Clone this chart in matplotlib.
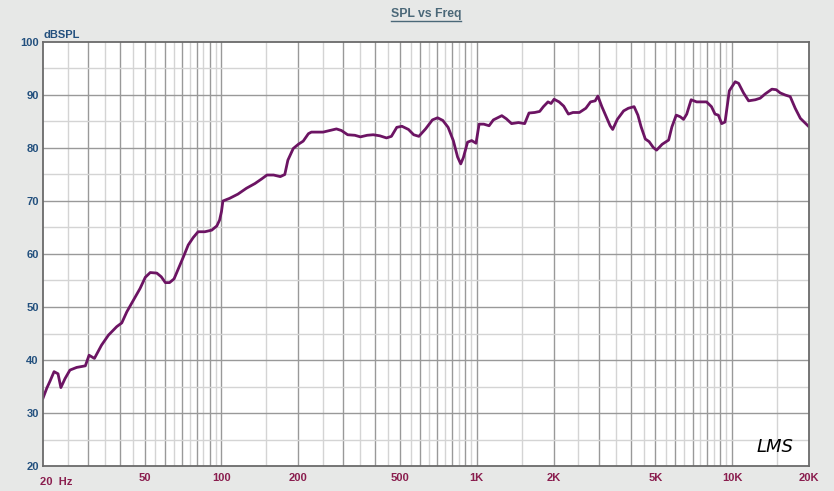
import numpy as np
import matplotlib
matplotlib.use("Agg")
import matplotlib.pyplot as plt
from matplotlib.ticker import FixedLocator, NullFormatter
from matplotlib.lines import Line2D

freq = [20, 20.7, 21.3, 22.1, 22.9, 23.5, 24.4, 25.5, 27.1, 29.3,
        30.3, 31.8, 33.9, 36.1, 38.9, 40.7, 42.6, 45.2, 48.0, 50.3,
        52.6, 55.8, 58.1, 60.3, 62.6, 65.2, 67.5, 71, 74.1, 77.5,
        81, 86.1, 91.6, 95.9, 98.3, 100, 101.3, 107.6, 116, 125.2,
        135.3, 144, 150.7, 160, 170, 177, 182, 191, 200, 209,
        219, 225, 250, 266, 282, 295, 312, 333, 350, 372,
        393, 417, 443, 463, 486, 509, 540, 566, 593, 630,
        670, 702, 736, 772, 809, 841, 865, 886, 920, 955,
        993, 1021, 1065, 1117, 1161, 1253, 1306, 1368, 1456, 1540,
        1601, 1685, 1763, 1823, 1900, 1953, 2008, 2100, 2190, 2284,
        2381, 2522, 2673, 2789, 2908, 2979, 3089, 3220, 3328, 3406,
        3551, 3758, 3921, 4131, 4275, 4400, 4570, 4730, 4910, 5060,
        5320, 5640, 5810, 6040, 6260, 6450, 6640, 6910, 7260, 7940,
        8300, 8570, 8830, 9100, 9380, 9750, 10280, 10600, 11080, 11600,
        12320, 12880, 13470, 14310, 14880, 15420, 16130, 16880, 17660, 18500,
        20000]

spl = [32.8, 34.7, 36.0, 37.8, 37.4, 34.8, 36.5, 38.1, 38.6, 38.9,
       40.9, 40.3, 42.8, 44.7, 46.3, 47.0, 49.1, 51.3, 53.5, 55.6,
       56.5, 56.4, 55.7, 54.6, 54.6, 55.3, 57.0, 59.5, 61.7, 63.1,
       64.2, 64.2, 64.5, 65.3, 66.4, 68.0, 70.0, 70.5, 71.3, 72.4,
       73.3, 74.2, 74.9, 74.9, 74.6, 75.0, 77.7, 79.9, 80.7, 81.3,
       82.7, 83.0, 83.0, 83.3, 83.6, 83.3, 82.5, 82.4, 82.1, 82.4,
       82.5, 82.3, 81.9, 82.2, 83.9, 84.1, 83.5, 82.5, 82.2, 83.6,
       85.3, 85.7, 85.2, 83.9, 81.4, 78.3, 77.0, 78.2, 81.1, 81.4,
       80.9, 84.5, 84.5, 84.2, 85.3, 86.1, 85.5, 84.6, 84.8, 84.6,
       86.6, 86.7, 86.9, 87.8, 88.7, 88.4, 89.2, 88.7, 87.9, 86.4,
       86.7, 86.7, 87.5, 88.7, 88.9, 89.8, 87.8, 85.8, 84.2, 83.5,
       85.4, 87.0, 87.5, 87.8, 86.2, 84.0, 81.7, 81.2, 80.1, 79.6,
       80.7, 81.5, 84.0, 86.2, 85.9, 85.4, 86.4, 89.1, 88.7, 88.7,
       87.8, 86.4, 86.2, 84.6, 84.9, 90.8, 92.5, 92.2, 90.4, 88.9,
       89.1, 89.4, 90.2, 91.1, 91.0, 90.4, 90.0, 89.7, 87.5, 85.6,
       84.0]

x_tick_vals = [50, 100, 200, 500, 1000, 2000, 5000, 10000, 20000]
x_tick_labels = ["50", "100", "200", "500", "1K", "2K", "5K", "10K", "20K"]
y_tick_vals = [20, 30, 40, 50, 60, 70, 80, 90, 100]
title_text = "SPL vs Freq"
y_unit = "dBSPL"
x_first_label = "20  Hz"

FONT = ["Liberation Sans Narrow", "Liberation Sans", "DejaVu Sans"]
BG = "#e7e8e7"
YCOL = "#23507e"
XCOL = "#8a1d4e"
TCOL = "#4b6878"
CURVE = "#6c1463"

fig = plt.figure(figsize=(8.34, 4.91), dpi=100, facecolor=BG)
ax = fig.add_axes([43/834, 25/491, 766/834, 424/491])
ax.set_facecolor("white")
ax.set_xscale("log")
ax.set_xlim(20, 20000)
ax.set_ylim(20, 100)

# grid lines (half-decade steps; decade multiples darker)
dark_x, light_x = [], []
for dec in [10, 100, 1000, 10000]:
    for k in range(2, 21):
        v = dec * k / 2
        if 20 < v < 20000 and v <= dec * 10 and (v > dec):
            if k % 2 == 0:
                dark_x.append(v)
            else:
                light_x.append(v)
for v in sorted(set(light_x)):
    ax.axvline(v, color="#d4d4d4", lw=1.0, zorder=1)
for v in sorted(set(dark_x)):
    ax.axvline(v, color="#999999", lw=1.0, zorder=1)
for v in range(25, 100, 10):
    ax.axhline(v, color="#d4d4d4", lw=1.0, zorder=1)
for v in range(30, 100, 10):
    ax.axhline(v, color="#999999", lw=1.0, zorder=1)

ax.plot(freq, spl, color=CURVE, lw=2.0, zorder=3, solid_joinstyle="round")

ax.xaxis.set_major_locator(FixedLocator(x_tick_vals))
ax.xaxis.set_minor_locator(FixedLocator([]))
ax.set_xticklabels(x_tick_labels)
ax.xaxis.set_minor_formatter(NullFormatter())
ax.yaxis.set_major_locator(FixedLocator(y_tick_vals))
ax.set_yticklabels([str(v) for v in y_tick_vals])
ax.tick_params(axis="both", which="both", length=0)
ax.tick_params(axis="x", pad=5, labelcolor=XCOL, labelsize=8)
ax.tick_params(axis="y", pad=3, labelcolor=YCOL, labelsize=8)
for lab in ax.get_xticklabels() + ax.get_yticklabels():
    lab.set_fontweight("bold")
    lab.set_family(FONT)

ax.text(-0.004, -0.0255, x_first_label, transform=ax.transAxes, ha="left", va="top",
        color=XCOL, fontsize=8, fontweight="bold", family=FONT)
ax.text(0, 1.005, y_unit, transform=ax.transAxes, ha="left", va="bottom",
        color=YCOL, fontsize=8, fontweight="bold", family=FONT)

for s in ax.spines.values():
    s.set_color("#6a6a6a")
    s.set_linewidth(1.3)
    s.set_zorder(4)

t = fig.text(426/834, 1 - 14/491, title_text, ha="center", va="center",
             color=TCOL, fontsize=8.8, fontweight="bold", family=FONT)
fig.canvas.draw()
bb = t.get_window_extent(renderer=fig.canvas.get_renderer())
fig.add_artist(Line2D([bb.x0 / 834, bb.x1 / 834], [(bb.y0 - 1) / 491, (bb.y0 - 1) / 491],
                      color=TCOL, lw=1.0, transform=fig.transFigure))

ax.text(0.955, 0.045, "LMS", transform=ax.transAxes, ha="center", va="center",
        color="black", fontsize=13, fontstyle="italic", family=["DejaVu Sans"],
        fontweight="light", zorder=5)

fig.savefig("out.png", dpi=100, facecolor=BG)
